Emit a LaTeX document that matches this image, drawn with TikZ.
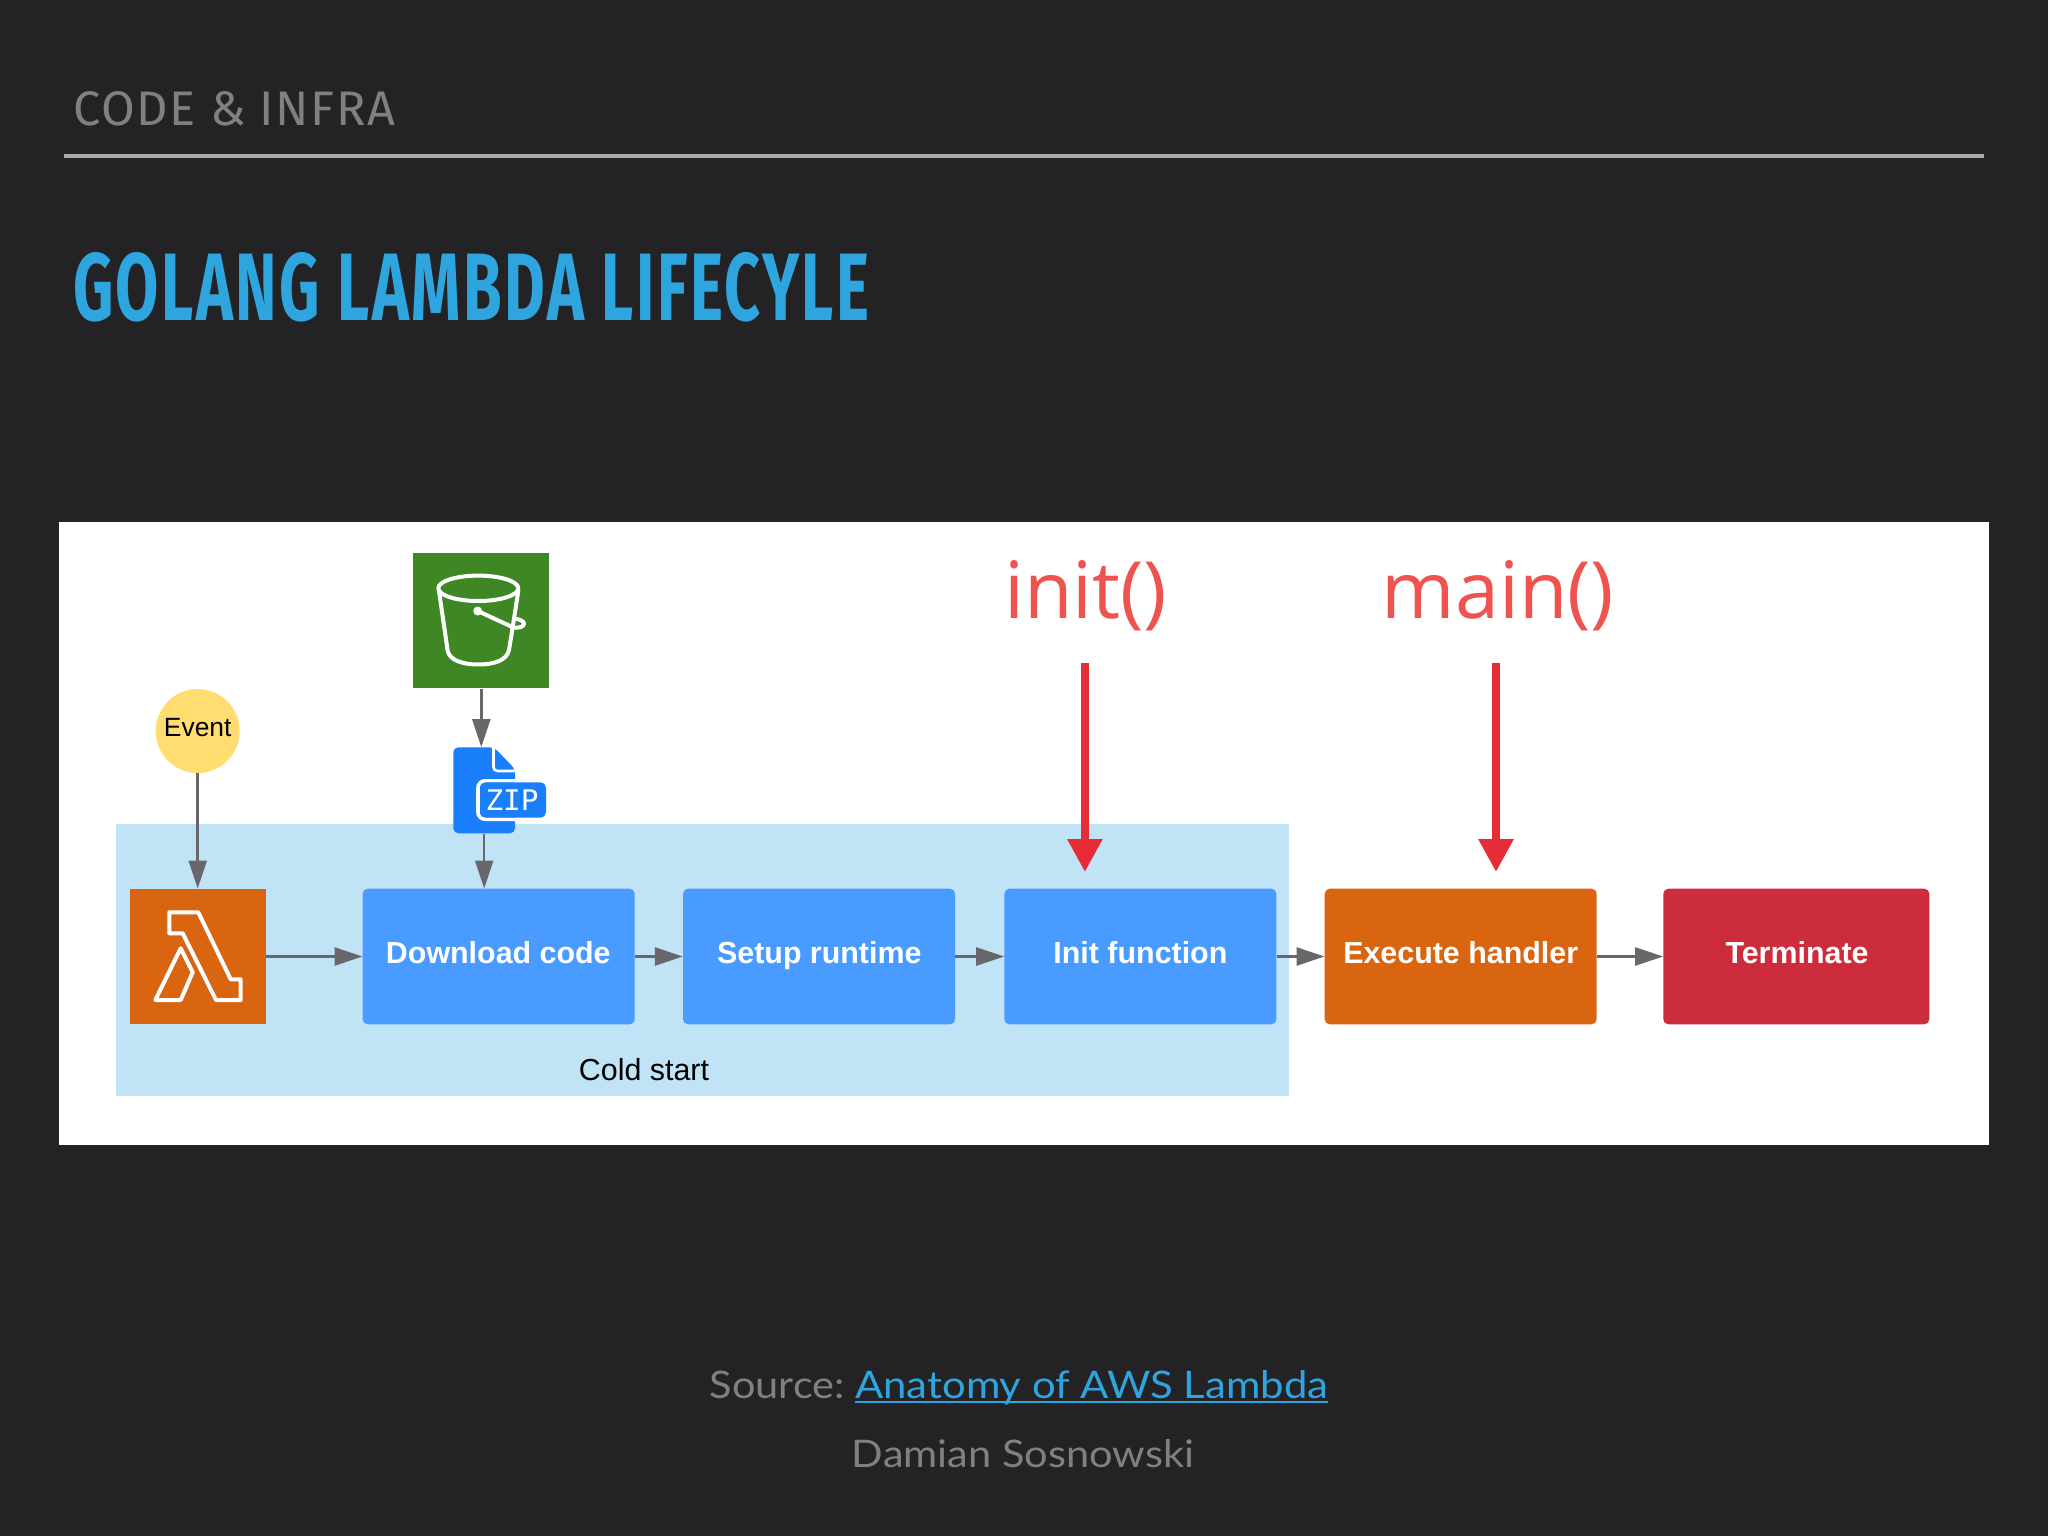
\documentclass[tikz,border=0pt]{standalone}
\usepackage{fontspec}
\usepackage{graphicx}
\usetikzlibrary{arrows.meta}
\setmainfont{Liberation Sans}
\newfontfamily\dinfont[LetterSpace=3]{Fira Sans}
\newfontfamily\dintitle[LetterSpace=4]{Fira Sans}
\newfontfamily\redfont{Open Sans}
\newfontfamily\footfont{Lato}
\newfontfamily\zipfont{DejaVu Sans Mono}
\definecolor{bgdark}{HTML}{232325}
\definecolor{headgray}{HTML}{808080}
\definecolor{rulegray}{HTML}{ABABAB}
\definecolor{titleblue}{HTML}{2FA5DF}
\definecolor{coldblue}{HTML}{C1E3F6}
\definecolor{boxblue}{HTML}{4A9BFF}
\definecolor{awsorange}{HTML}{D96511}
\definecolor{termred}{HTML}{CC2C3B}
\definecolor{awsgreen}{HTML}{3F8624}
\definecolor{zipblue}{HTML}{1A7FFB}
\definecolor{eventyellow}{HTML}{FFDD71}
\definecolor{conngray}{HTML}{68686C}
\definecolor{arrowred}{HTML}{E62C36}
\definecolor{labelred}{HTML}{EF5350}
\tikzset{
  stepbox/.style={rectangle,rounded corners=5pt,minimum width=272pt,minimum height=135.6pt,inner sep=0pt},
  iconbox/.style={rectangle,minimum width=136pt,minimum height=135.6pt,inner sep=0pt},
  conn/.style={draw=conngray,line width=2.5pt,-{Triangle[length=28pt,width=18pt,fill=conngray]}},
  redarrow/.style={draw=arrowred,line width=7.8pt,-{Triangle[length=33pt,width=33.4pt,fill=arrowred]}},
  icon/.style={draw=white,line width=4pt,line join=round,line cap=round},
  plain/.style={inner sep=0pt,outer sep=0pt},
  boxlabel/.style={plain,text=white,font=\fontsize{30.4}{34}\selectfont\bfseries,anchor=base},
  bigred/.style={plain,text=labelred,font=\fontsize{79}{84}\selectfont\redfont,anchor=base},
  foot/.style={plain,font=\fontsize{38}{42}\selectfont\footfont,anchor=base west}
}
\begin{document}
\begin{tikzpicture}[x=1pt,y=-1pt]
\useasboundingbox (0,0) rectangle (2048,1536);
\fill[bgdark] (0,0) rectangle (2048,1536);

% header
\node[plain,anchor=base west,text=headgray] (section) at (73.5,126)
  {\resizebox{321.5pt}{34pt}{\dinfont CODE \& INFRA}};
\fill[rulegray] (64.3,154.3) rectangle (1984,158.3);
\node[plain,anchor=base west,text=titleblue] (title) at (73,320)
  {\resizebox{796pt}{68pt}{\dintitle\bfseries GOLANG LAMBDA LIFECYLE}};

% panel
\fill[white] (58.8,522.4) rectangle (1989,1145);
\fill[coldblue] (115.7,824.3) rectangle (1289,1095.8);
\node[plain,anchor=base,font=\fontsize{30.4}{34}\selectfont] (coldstart) at (644,1080) {Cold start};

% nodes
\node[iconbox,fill=awsorange] (lambda) at (197.7,956.5) {};
\node[iconbox,fill=awsgreen] (s3) at (481.3,620.5) {};
\node[circle,fill=eventyellow,minimum size=84pt,inner sep=0pt] (event) at (197.7,731) {};
\node[plain,anchor=base,font=\fontsize{26.4}{28}\selectfont] (eventlabel) at (197.7,736) {Event};
\node[rectangle,minimum width=61.7pt,minimum height=86pt,inner sep=0pt] (zip) at (484.2,790.3) {};
\node[stepbox,fill=boxblue] (download) at (498.7,956.5) {};
\node[stepbox,fill=boxblue] (setup) at (819,956.5) {};
\node[stepbox,fill=boxblue] (initfn) at (1140.4,956.5) {};
\node[stepbox,fill=awsorange] (execute) at (1460.7,956.5) {};
\node[stepbox,fill=termred,minimum width=266pt] (terminate) at (1796.3,956.5) {};

\node[boxlabel] at (498.3,963) {Download code};
\node[boxlabel] at (819.3,963) {Setup runtime};
\node[boxlabel] at (1140.4,963) {Init function};
\node[boxlabel] at (1460.7,963) {Execute handler};
\node[boxlabel] at (1797,963) {Terminate};

% lambda icon
\draw[icon] (169.3,912.3) -- (198.3,912.3) -- (230.7,979.3) -- (240.7,979.3) -- (240.7,1000) -- (216,1000) -- (182.7,933.3) -- (169.3,933.3) -- cycle;
\draw[icon] (180.7,948.3) -- (192.7,972.3) -- (180.7,1000) -- (155.3,1000) -- cycle;

% bucket icon
\draw[icon] (478.3,588.3) ellipse [x radius=40,y radius=12.7];
\draw[icon] (439,591) .. controls (442,612) and (445,632) .. (447.5,650)
   .. controls (449,660) and (462,664.5) .. (478.3,664.5)
   .. controls (495,664.5) and (507,660) .. (509,650)
   .. controls (512,632) and (515,612) .. (518.3,591);
\fill[white] (477.7,611) circle (4.5pt);
\draw[icon] (477.7,611) -- (511.7,626.7);
\draw[icon] (516,618.7) .. controls (521,620) and (524,621.5) .. (524,623.5) .. controls (524,626.5) and (520,628.5) .. (512,627.5);

% zip icon
\fill[zipblue,rounded corners=5pt] (453.3,747.3) -- (494,747.3) -- (515,769) -- (515,833.3) -- (453.3,833.3) -- cycle;
\draw[white,line width=2.6pt,rounded corners=4pt] (493.5,748) -- (493.5,771) -- (514.5,771);
\begin{scope}
  \clip (453.3,747.3) rectangle (515,833.3);
  \draw[white,line width=3.6pt,rounded corners=7pt] (478,780.8) rectangle (560,819.2);
\end{scope}
\fill[zipblue,rounded corners=5.5pt] (480,782.3) rectangle (546,817.7);
\node[plain,text=white] (ziplabel) at (512,800.3) {\resizebox{53pt}{20.7pt}{\zipfont ZIP}};

% connectors
\draw[conn] (event.south) -- (lambda.north);
\draw[conn] (s3.south) -- (s3.south |- zip.north);
\draw[conn] (zip.south) -- (zip.south |- download.north);
\draw[conn] (lambda.east) -- (download.west);
\draw[conn] (download.east) -- (setup.west);
\draw[conn] (setup.east) -- (initfn.west);
\draw[conn] (initfn.east) -- (execute.west);
\draw[conn] (execute.east) -- (terminate.west);

% red labels and arrows
\node[bigred] (initlabel) at (1085.7,618.5) {init()};
\node[bigred] (mainlabel) at (1498,618.5) {main()};
\coordinate (initstart) at (1084.9,663.3);
\coordinate (initend) at (1084.9,872);
\coordinate (mainstart) at (1496,663.3);
\coordinate (mainend) at (1496,872);
\draw[redarrow] (initstart) -- (initend);
\draw[redarrow] (mainstart) -- (mainend);

% footer
\node[foot,text=headgray] (source) at (709.7,1398) {\resizebox{135pt}{\height}{Source:}};
\node[foot,text=titleblue] (srclink) at (855.2,1398) {\resizebox{473pt}{\height}{Anatomy of AWS Lambda}};
\draw[titleblue,line width=2pt] ([yshift=-3.5pt]srclink.base west) -- ([yshift=-3.5pt]srclink.base east);
\node[foot,text=headgray,anchor=base] (author) at (1023,1467.7) {\resizebox{342pt}{\height}{Damian Sosnowski}};
\end{tikzpicture}
\end{document}
